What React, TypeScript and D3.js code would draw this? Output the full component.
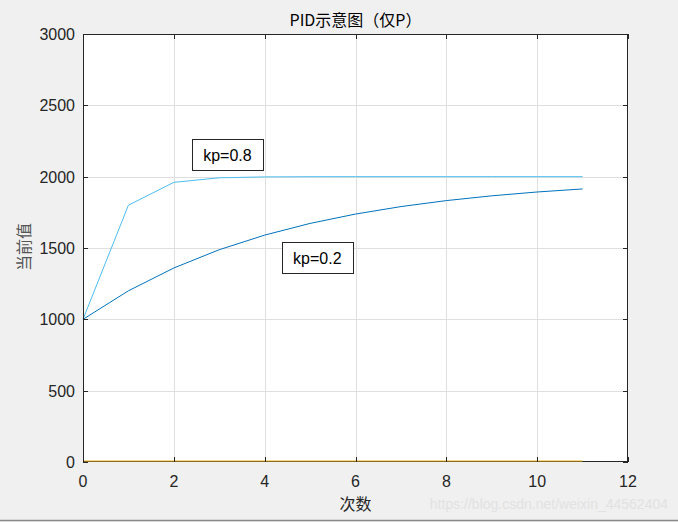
import React, { useEffect, useRef } from "react";
import * as d3 from "d3";

const steps = [0, 1, 2, 3, 4, 5, 6, 7, 8, 9, 10, 11];
const kp08 = [1000, 1800, 1960, 1992, 1998.4, 1999.7, 1999.9, 2000, 2000, 2000, 2000, 2000];
const kp02 = [1000, 1200, 1360, 1488, 1590.4, 1672.3, 1737.9, 1790.3, 1832.2, 1865.8, 1892.6, 1914.1];
const zeroLine = [0, 0, 0, 0, 0, 0, 0, 0, 0, 0, 0, 0];
const xTicks = [0, 2, 4, 6, 8, 10, 12];
const yTicks = [0, 500, 1000, 1500, 2000, 2500, 3000];
const labels = [
  { text: "kp=0.8", x: 3.18, y: 2155 },
  { text: "kp=0.2", x: 5.16, y: 1433 },
];

const W = 678, H = 522;
const L = 83, R = 628, T = 34, B = 462;

export default function App() {
  const ref = useRef<SVGSVGElement>(null);
  useEffect(() => {
    const svg = d3.select(ref.current);
    svg.selectAll("*").remove();
    const x = d3.scaleLinear().domain([0, 12]).range([L, R]);
    const y = d3.scaleLinear().domain([0, 3000]).range([B, T]);
    const font = "Liberation Sans, Arial, sans-serif";
    const cjk = "Noto Sans CJK SC, sans-serif";

    svg.append("rect").attr("width", W).attr("height", H).attr("fill", "#f0f0f0");
    svg.append("rect").attr("x", L).attr("y", T).attr("width", R - L).attr("height", B - T).attr("fill", "#fff");

    // grid
    const g = svg.append("g");
    xTicks.slice(1, -1).forEach((t) => {
      g.append("line").attr("x1", Math.round(x(t)) + 0.5).attr("x2", Math.round(x(t)) + 0.5).attr("y1", T).attr("y2", B)
        .attr("stroke", "#dfdfdf").attr("stroke-width", 1);
    });
    yTicks.slice(1, -1).forEach((t) => {
      g.append("line").attr("x1", L).attr("x2", R).attr("y1", Math.round(y(t)) + 0.5).attr("y2", Math.round(y(t)) + 0.5)
        .attr("stroke", "#dfdfdf").attr("stroke-width", 1);
    });

    const line = (vals: number[]) =>
      d3.line<number>().x((_, i) => x(steps[i])).y((d) => y(d))(vals) as string;

    svg.append("path").attr("d", line(kp08)).attr("fill", "none").attr("stroke", "#4DBEEE").attr("stroke-width", 1);
    svg.append("path").attr("d", line(kp02)).attr("fill", "none").attr("stroke", "#0072BD").attr("stroke-width", 1);

    // box
    svg.append("rect").attr("x", L + 0.5).attr("y", T + 0.5).attr("width", R - L - 1).attr("height", B - T - 1)
      .attr("fill", "none").attr("stroke", "#262626").attr("stroke-width", 1);

    svg.append("path").attr("d", line(zeroLine)).attr("fill", "none").attr("stroke", "#EDB120")
      .attr("stroke-width", 1.5).attr("opacity", 0.7).attr("transform", "translate(0,-1)");

    // ticks
    const tk = svg.append("g").attr("stroke", "#262626").attr("stroke-width", 1);
    xTicks.forEach((t) => {
      const xx = Math.round(x(t)) + 0.5;
      tk.append("line").attr("x1", xx).attr("x2", xx).attr("y1", B).attr("y2", B - 5);
      tk.append("line").attr("x1", xx).attr("x2", xx).attr("y1", T).attr("y2", T + 5);
    });
    yTicks.forEach((t) => {
      const yy = Math.round(y(t)) + 0.5;
      tk.append("line").attr("x1", L).attr("x2", L + 5).attr("y1", yy).attr("y2", yy);
      tk.append("line").attr("x1", R).attr("x2", R - 5).attr("y1", yy).attr("y2", yy);
    });

    xTicks.forEach((t) => {
      svg.append("text").attr("x", x(t)).attr("y", B + 25).attr("text-anchor", "middle")
        .attr("font-family", font).attr("font-size", 16).attr("fill", "#262626").text(String(t));
    });
    yTicks.forEach((t) => {
      svg.append("text").attr("x", L - 8).attr("y", y(t) + 6).attr("text-anchor", "end")
        .attr("font-family", font).attr("font-size", 16).attr("fill", "#262626").text(String(t));
    });

    svg.append("text").attr("x", (L + R) / 2).attr("y", 26).attr("text-anchor", "middle")
      .attr("font-family", cjk).attr("font-size", 16).attr("fill", "#000").text("PID示意图（仅P）");
    svg.append("text").attr("x", (L + R) / 2 + 0).attr("y", 510).attr("text-anchor", "middle")
      .attr("font-family", cjk).attr("font-size", 16).attr("fill", "#262626").text("次数");
    svg.append("text").attr("transform", `translate(30,${247}) rotate(-90)`).attr("text-anchor", "middle")
      .attr("font-family", cjk).attr("font-size", 16).attr("fill", "#555555").text("当前值");

    labels.forEach((lb) => {
      const cx = x(lb.x), cy = y(lb.y);
      svg.append("rect").attr("x", Math.round(cx - 35.5) + 0.5).attr("y", Math.round(cy - 16) + 0.5).attr("width", 71).attr("height", 31)
        .attr("fill", "#fff").attr("stroke", "#262626").attr("stroke-width", 1);
      svg.append("text").attr("x", cx).attr("y", cy + 6).attr("text-anchor", "middle")
        .attr("font-family", font).attr("font-size", 16).attr("fill", "#000").text(lb.text);
    });

    svg.append("text").attr("x", 668).attr("y", 509).attr("text-anchor", "end")
      .attr("font-family", font).attr("font-size", 14).attr("fill", "#e2e2e2").text("https://blog.csdn.net/weixin_44562404");

    svg.append("line").attr("x1", 0).attr("x2", W).attr("y1", 520.5).attr("y2", 520.5).attr("stroke", "#8a8a8a").attr("stroke-width", 1.5);
  }, []);
  return <svg ref={ref} width={W} height={H} style={{ position: "absolute", left: 0, top: 0 }} />;
}
